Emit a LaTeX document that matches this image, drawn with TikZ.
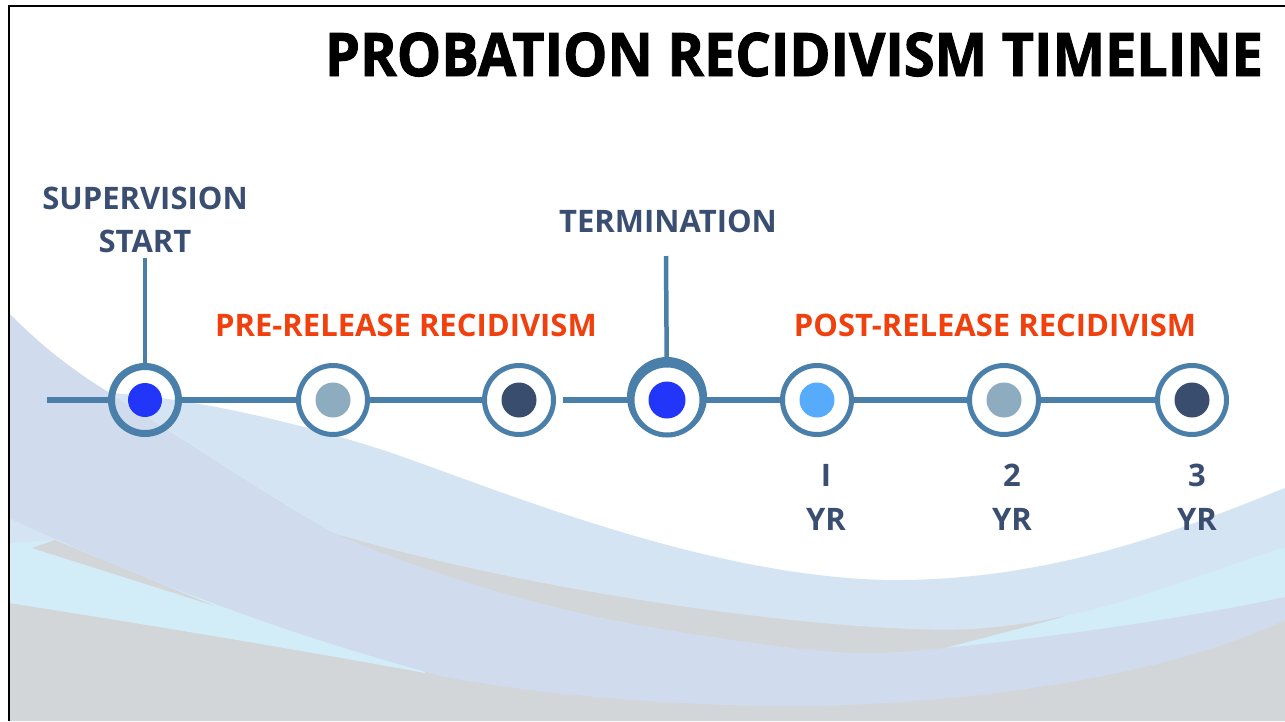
\documentclass[tikz,border=0pt]{standalone}
\usepackage{fontspec}
\setmainfont{Open Sans}
\newfontfamily\titlefont{Open Sans}[BoldFeatures={FakeBold=1.6,FakeStretch=0.93}]
\definecolor{ringc}{HTML}{4A7FA9}
\definecolor{navy}{HTML}{3A4E72}
\definecolor{orng}{HTML}{F0400E}
\definecolor{dotblue}{HTML}{2236FA}
\definecolor{dotgray}{HTML}{8EACC0}
\definecolor{dotnavy}{HTML}{394D6E}
\definecolor{dotlight}{HTML}{56ACFA}
\definecolor{bgA}{HTML}{D5E4F3}
\definecolor{bgB}{HTML}{D0DCEE}
\definecolor{bgGray}{HTML}{D3D6D9}
\definecolor{bgCyan}{HTML}{D2ECF8}
\begin{document}
\begin{tikzpicture}[x=1pt,y=-1pt,
  ring/.style={circle,draw=ringc,line width=5pt,fill=white,minimum size=69pt,inner sep=0pt},
  dotnode/.style={circle,minimum size=35pt,inner sep=0pt},
  tl/.style={draw=ringc,line width=5.5pt},
  lbl/.style={text=navy,font=\fontsize{31}{43}\selectfont\bfseries,align=center,anchor=base,inner sep=0pt},
  phase/.style={text=orng,font=\fontsize{31}{36}\selectfont\bfseries,anchor=base,inner sep=0pt},
  yrlbl/.style={text=navy,font=\fontsize{31}{44}\selectfont\bfseries,align=center,anchor=base,inner sep=0pt}]
\useasboundingbox (0,0) rectangle (1285,721);
\fill[white] (0,0) rectangle (1285,721);
% background waves
\fill[bgGray] (9,721) -- (9,500) -- (337,520) -- (700,600) -- (1000,610) -- (1285,520) -- (1285,721) -- cycle;
\fill[bgCyan] (9,500) -- (9,603) .. controls (150,625) and (300,650) .. (425,673) -- (425,600) -- cycle;
\fill[bgCyan] (945,648) -- (1060,618) -- (1285,520) -- (1285,612) -- (1100,650) -- cycle;
\fill[bgA] (9,505) -- (9,543) -- (55,540) -- (90,530) -- cycle;
\fill[bgGray] (32,548) -- (55,540) -- (215,606) -- cycle;
\fill[bgB] (9,313) .. controls (40,345) and (75,372) .. (110,393)
  .. controls (180,437) and (260,490) .. (333,533)
  .. controls (400,562) and (520,605) .. (650,627)
  .. controls (760,645) and (830,655) .. (885,653)
  .. controls (1000,645) and (1180,620) .. (1285,597)
  -- (1285,620)
  .. controls (1180,670) and (1020,695) .. (885,703)
  .. controls (780,710) and (600,705) .. (445,677)
  .. controls (250,625) and (100,560) .. (9,518) -- cycle;
\fill[bgA] (110,393) .. controls (160,396) and (250,408) .. (383,450)
  .. controls (500,490) and (700,575) .. (885,580)
  .. controls (1050,582) and (1180,530) .. (1285,488)
  -- (1285,547)
  .. controls (1180,580) and (1100,618) .. (985,628)
  .. controls (880,638) and (560,600) .. (333,533)
  .. controls (260,490) and (180,437) .. (110,393) -- cycle;
% frame
\draw[black,line width=2.5pt] (9,721) -- (9,6) -- (1285,6);
% title
\node[anchor=base,inner sep=0pt,font=\titlefont\bfseries\fontsize{60}{70}\selectfont] (title) at (794,76) {PROBATION RECIDIVISM TIMELINE};
% labels
\node[lbl] (sup) at (145,252) {SUPERVISION\\START};
\node[lbl] (term) at (668,232) {TERMINATION};
\node[phase] (pre) at (406,336) {PRE-RELEASE RECIDIVISM};
\node[phase] (post) at (995,336) {POST-RELEASE RECIDIVISM};
% timeline circles
\node[ring,line width=7pt,fill=none,minimum size=67pt] (c1) at (145,400) {};
\node[ring] (c2) at (333,400) {};
\node[ring] (c3) at (519,400) {};
\node[circle,fill=ringc,minimum size=80pt,inner sep=0pt] (c4s) at (667,397) {};
\node[ring,minimum size=70pt] (c4) at (667,400) {};
\node[ring] (c5) at (817,400) {};
\node[ring] (c6) at (1004,400) {};
\node[ring] (c7) at (1192,400) {};
% dots
\node[dotnode,fill=dotblue,minimum size=34pt] (d1) at (c1) {};
\node[dotnode,fill=dotgray] (d2) at (c2) {};
\node[dotnode,fill=dotnavy] (d3) at (c3) {};
\node[dotnode,fill=dotblue,minimum size=37pt] (d4) at (c4) {};
\node[dotnode,fill=dotlight] (d5) at (c5) {};
\node[dotnode,fill=dotgray] (d6) at (c6) {};
\node[dotnode,fill=dotnavy] (d7) at (c7) {};
% connectors
\coordinate (tstart) at (47,400);
\coordinate (v1) at (145,258);
\coordinate (v4) at (666,256);
\draw[tl] (tstart) -- (c1);
\draw[tl] (c1) -- (c2);
\draw[tl] (c2) -- (c3);
\draw[tl] ([xshift=7pt]c3.east) -- (c4);
\draw[tl] (c4) -- (c5);
\draw[tl] (c5) -- (c6);
\draw[tl] (c6) -- (c7);
\draw[tl,line width=4.5pt] (v1) -- (c1);
\draw[tl,line width=4.5pt] (v4) -- (c4);
% year labels
\node[yrlbl] (y1) at (826,530) {I\\YR};
\node[yrlbl] (y2) at (1012,530) {2\\YR};
\node[yrlbl] (y3) at (1197,530) {3\\YR};
\end{tikzpicture}
\end{document}
